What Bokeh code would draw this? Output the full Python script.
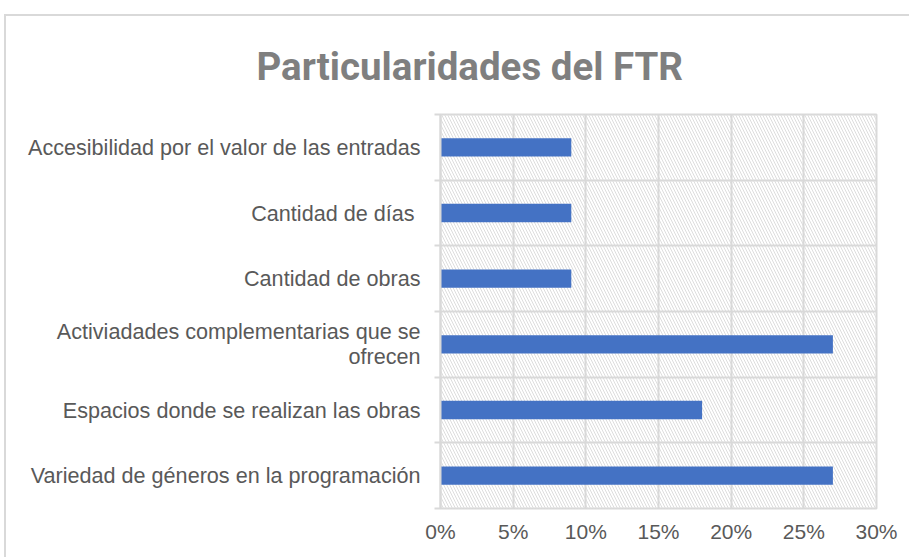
from bokeh.plotting import figure
from bokeh.models import Range1d, FixedTicker, BoxAnnotation
from bokeh.embed import file_html
from bokeh.resources import INLINE

# ---- data (bottom to top) ----
categories = [
    "Variedad de géneros en la programación",
    "Espacios donde se realizan las obras",
    "Activiadades complementarias que se\nofrecen",
    "Cantidad de obras",
    "Cantidad de días ",
    "Accesibilidad por el valor de las entradas",
]
values = [0.27, 0.18, 0.27, 0.09, 0.09, 0.09]
x_ticks = [0.0, 0.05, 0.10, 0.15, 0.20, 0.25, 0.30]
x_tick_labels = ["0%", "5%", "10%", "15%", "20%", "25%", "30%"]
title_text = "Particularidades del FTR"

n = len(categories)
ypos = [i + 0.5 for i in range(n)]
bounds = list(range(n + 1))

GRID = "#d9d9d9"
TXT = "#595959"
FONT = "Liberation Sans"

# page layout (pixels)
PAGE_W, PAGE_H = 911, 559
BX, BY, BW = 4, 14, 2            # outer chart border position / width
CX, CY = BX + BW, BY + BW        # canvas origin on page
FL, FR, FT, FB = 440, 876, 112, 508   # frame edges on page
W, H = PAGE_W - CX, PAGE_H - CY

p = figure(
    width=W, height=H,
    x_range=Range1d(x_ticks[0], x_ticks[-1]),
    y_range=Range1d(0, n),
    output_backend="svg", toolbar_location=None,
    min_border_left=FL - CX, min_border_right=PAGE_W - FR,
    min_border_top=FT - CY, min_border_bottom=PAGE_H - FB,
)
p.styles = {
    "margin-left": f"{BX}px",
    "margin-top": f"{BY}px",
    "border-left": f"{BW}px solid #d9d9d9",
    "border-top": f"{BW}px solid #d9d9d9",
}
p.outline_line_color = GRID
p.outline_line_width = 2
p.background_fill_color = "white"
p.border_fill_color = "white"

# hatched plot area background
hatch = BoxAnnotation(fill_alpha=0, line_color=None, hatch_pattern="\\",
                      hatch_color="#dddddd", hatch_scale=6, hatch_weight=1,
                      level="underlay")
p.center = [hatch] + list(p.center)

# grids
p.xgrid.ticker = FixedTicker(ticks=x_ticks)
p.ygrid.ticker = FixedTicker(ticks=bounds)
for g in (p.xgrid, p.ygrid):
    g.grid_line_color = GRID
    g.grid_line_width = 2

# bars
p.hbar(y=ypos, left=0, right=values, height=0.28, color="#4472C4", line_color=None)

# x axis
xa = p.xaxis[0]
xa.ticker = FixedTicker(ticks=x_ticks)
xa.major_label_overrides = {t: l for t, l in zip(x_ticks, x_tick_labels)}
xa.axis_line_color = None
xa.major_tick_line_color = None
xa.major_tick_out = 0
xa.major_tick_in = 0
xa.minor_tick_line_color = None
xa.minor_tick_out = 0
xa.major_label_standoff = 11
xa.major_label_text_font = FONT
xa.major_label_text_font_size = "21px"
xa.major_label_text_color = TXT

# y axis
ya = p.yaxis[0]
ya.ticker = FixedTicker(ticks=ypos, minor_ticks=bounds)
ya.major_label_overrides = {t: c for t, c in zip(ypos, categories)}
ya.axis_line_color = GRID
ya.axis_line_width = 2
ya.major_tick_line_color = None
ya.major_tick_out = 0
ya.major_tick_in = 0
ya.minor_tick_line_color = GRID
ya.minor_tick_line_width = 2
ya.minor_tick_out = 6
ya.minor_tick_in = 0
ya.major_label_standoff = 14
ya.major_label_text_font = FONT
ya.major_label_text_font_size = "21.6px"
ya.major_label_text_line_height = 1.0
ya.major_label_text_color = TXT
ya.major_label_text_align = "right"

# title
p.title.text = title_text
p.title.align = "left"
p.title.offset = -184
p.title.standoff = 51
p.title.text_font = "Roboto"
p.title.text_font_style = "bold"
p.title.text_font_size = "38.5px"
p.title.text_color = "#7f7f7f"

open("out.html", "w").write(file_html(p, INLINE))
